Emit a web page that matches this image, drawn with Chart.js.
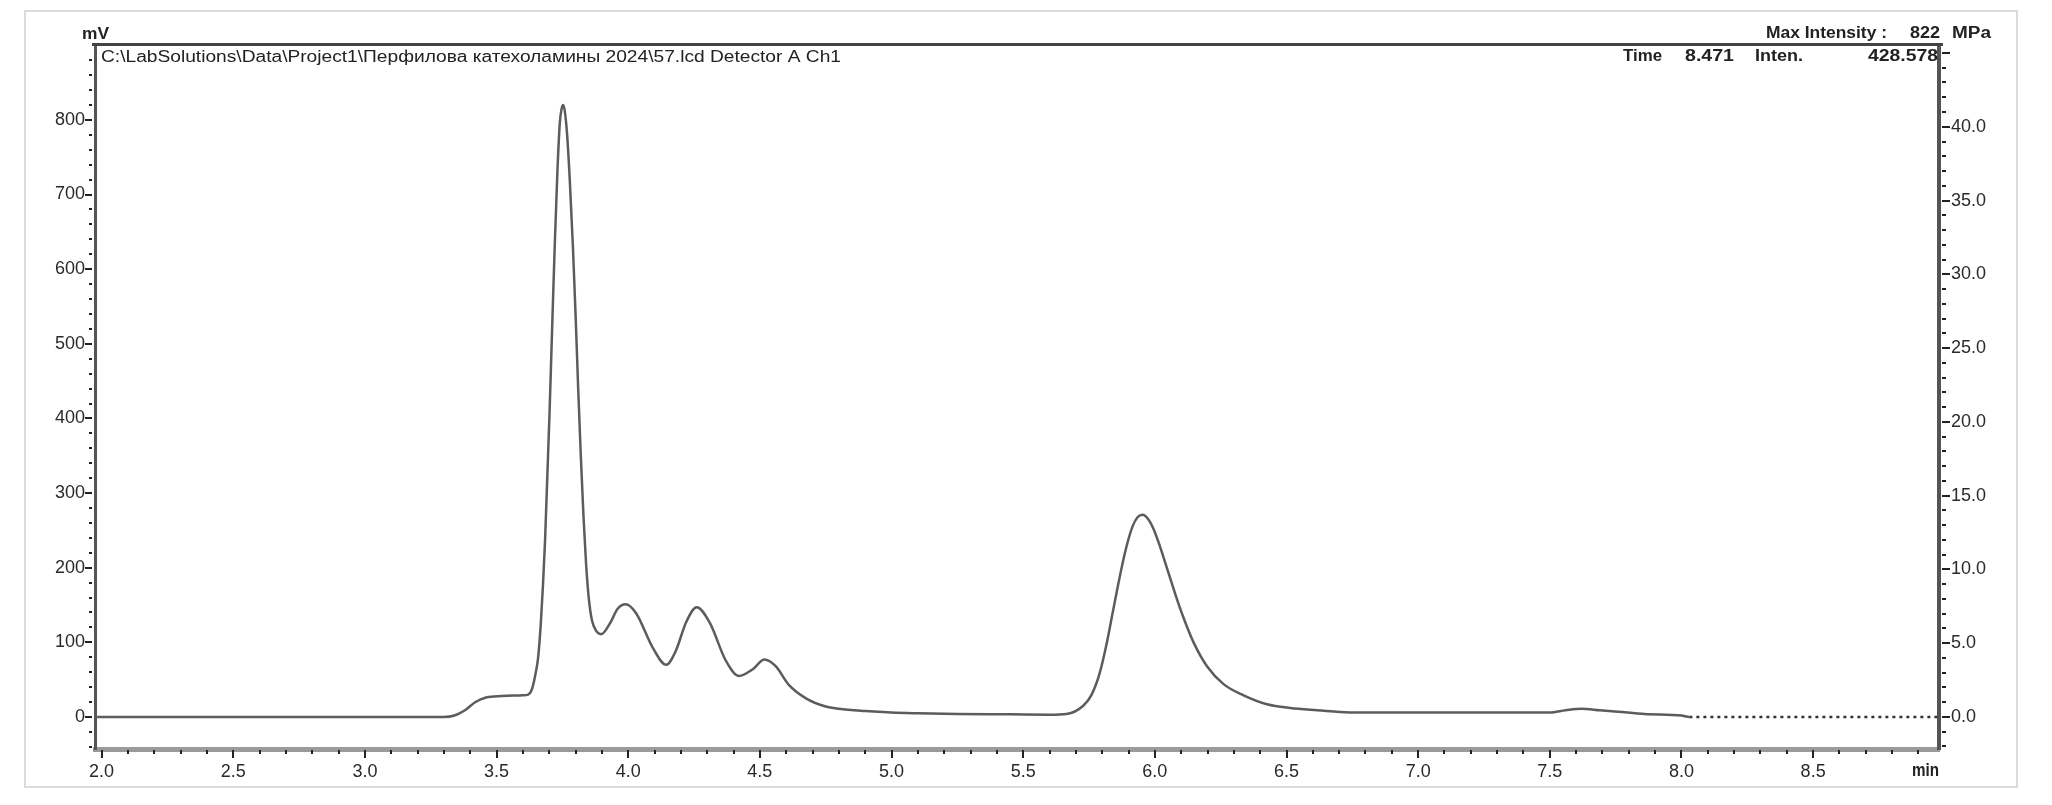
<!DOCTYPE html>
<html>
<head>
<meta charset="utf-8">
<script src="https://cdn.jsdelivr.net/npm/chart.js@4.4.1/dist/chart.umd.min.js"></script>
<style>
  body { margin: 0; background: #fff; }
  canvas { display: block; }
</style>
</head>
<body>
<canvas id="chromChart" width="2052" height="805"></canvas>
<script>
// Retention time (min) and detector signal (mV)
const retentionTime = [
  1.975, 2.5, 3.0, 3.30, 3.34, 3.38, 3.42, 3.46, 3.52, 3.60, 3.62,
  3.635, 3.648, 3.658, 3.668, 3.676, 3.684, 3.692, 3.701, 3.711, 3.721,
  3.731, 3.740, 3.747, 3.753, 3.759, 3.768, 3.778, 3.79, 3.80, 3.81,
  3.82, 3.83, 3.84, 3.85, 3.862, 3.879, 3.898, 3.93, 3.96, 3.99,
  4.03, 4.093, 4.144, 4.18, 4.22, 4.26, 4.31, 4.37, 4.42, 4.473,
  4.517, 4.56, 4.61, 4.675, 4.75, 4.80, 4.90, 5.00, 5.10, 5.25,
  5.45, 5.60, 5.665, 5.728, 5.76, 5.79, 5.815, 5.84, 5.865, 5.89,
  5.915, 5.935, 5.954, 5.975, 5.995, 6.02, 6.05, 6.08, 6.11, 6.147,
  6.198, 6.261, 6.337, 6.426, 6.514, 6.616, 6.74, 7.0, 7.25, 7.50,
  7.56, 7.62, 7.69, 7.76, 7.86, 8.0, 8.03, 8.5, 8.978
];
const signalMv = [
  0, 0, 0, 0, 2, 9, 20, 26, 28, 29, 30,
  38, 58, 80, 125, 175, 235, 315, 405, 520, 632,
  730, 795, 815, 820, 812, 780, 720, 630, 540, 440,
  350, 270, 205, 160, 130, 115, 111, 125, 145, 151,
  139, 93, 70, 88, 127, 147, 126, 76, 55, 64,
  77, 68, 43, 25, 14, 11, 8, 6, 5, 4,
  3.5, 3, 4, 15, 30, 58, 95, 140, 185, 225,
  255, 268, 271, 265, 252, 228, 195, 162, 132, 100,
  68, 44, 29, 17, 12, 9, 6, 6, 6, 6,
  9, 11, 9, 7, 4, 2, 0, 0, 0
];

// axes
const timeRange = [1.975, 8.978];
const mvRange = [-42.9, 899];
const mvPerMpa = 19.77;            // right axis (MPa) is tied to the left one
const timeMajor = 0.5, timeMinor = 0.1;
const mvMajor = 100, mvMinor = 20;
const mpaMajor = 5, mpaMinor = 1;
const dottedFrom = 8.02;           // baseline drawn dotted after this time

// header texts
const headerPath = 'C:\\LabSolutions\\Data\\Project1\\Перфилова катехоламины 2024\\57.lcd Detector A Ch1';
const maxLabel = 'Max Intensity :', maxValue = '822', pressUnit = 'MPa';
const cursorTimeLabel = 'Time', cursorTime = '8.471', cursorIntLabel = 'Inten.', cursorInt = '428.578';
const yUnit = 'mV', xUnit = 'min';

const FONT = '"Liberation Sans", Arial, sans-serif';
const points = retentionTime.map((t, i) => ({ x: t, y: signalMv[i] }));

// text squeezed/stretched to a given width
function fitText(ctx, text, left, y, width, font) {
  ctx.save();
  ctx.font = font;
  ctx.textBaseline = 'middle';
  ctx.textAlign = 'left';
  const w = ctx.measureText(text).width;
  ctx.translate(left, y);
  ctx.scale(width / w, 1);
  ctx.fillText(text, 0, 0);
  ctx.restore();
}

const decorPlugin = {
  id: 'decor',
  beforeDraw(chart) {
    const ctx = chart.ctx;
    ctx.save();
    ctx.fillStyle = '#fff';
    ctx.fillRect(0, 0, chart.width, chart.height);
    ctx.strokeStyle = '#cfcfcf';
    ctx.lineWidth = 1.5;
    ctx.strokeRect(25, 11, 1992, 776);
    ctx.restore();
  },
  afterDraw(chart) {
    const ctx = chart.ctx;
    const area = chart.chartArea;
    const sx = chart.scales.x, sy = chart.scales.y, s2 = chart.scales.y2;
    ctx.save();
    // top frame line
    ctx.strokeStyle = '#444';
    ctx.lineWidth = 3;
    ctx.beginPath();
    ctx.moveTo(area.left - 3, area.top - 1.5);
    ctx.lineTo(area.right + 4, area.top - 1.5);
    ctx.stroke();

    ctx.strokeStyle = '#222';
    ctx.lineWidth = 2;
    const eps = 1e-6;
    // left axis ticks
    for (let v = Math.ceil(mvRange[0] / mvMinor) * mvMinor; v <= mvRange[1]; v += mvMinor) {
      const y = Math.round(sy.getPixelForValue(v));
      const major = Math.abs(v / mvMajor - Math.round(v / mvMajor)) < eps;
      ctx.beginPath();
      ctx.moveTo(area.left - 3, y);
      ctx.lineTo(area.left - (major ? 10 : 6), y);
      ctx.stroke();
    }
    // right axis ticks
    const mpaMin = mvRange[0] / mvPerMpa, mpaMax = mvRange[1] / mvPerMpa;
    for (let v = Math.ceil(mpaMin / mpaMinor) * mpaMinor; v <= mpaMax; v += mpaMinor) {
      const y = Math.round(s2.getPixelForValue(v));
      const major = Math.abs(v / mpaMajor - Math.round(v / mpaMajor)) < eps;
      ctx.beginPath();
      ctx.moveTo(area.right + 3, y);
      ctx.lineTo(area.right + (major ? 11 : 7), y);
      ctx.stroke();
    }
    // bottom axis ticks
    for (let k = Math.ceil(timeRange[0] / timeMinor); k * timeMinor <= timeRange[1]; k++) {
      const v = k * timeMinor;
      const x = Math.round(sx.getPixelForValue(v));
      const major = Math.abs(v / timeMajor - Math.round(v / timeMajor)) < eps;
      ctx.beginPath();
      ctx.moveTo(x, area.bottom + 1);
      ctx.lineTo(x, area.bottom + (major ? 9 : 5));
      ctx.stroke();
    }

    ctx.fillStyle = '#222';
    fitText(ctx, yUnit, 82, 34, 27, 'bold 17px ' + FONT);
    fitText(ctx, headerPath, 101, 58, 740, '16px ' + FONT);
    fitText(ctx, maxLabel, 1766, 34, 121, 'bold 16px ' + FONT);
    fitText(ctx, maxValue, 1910, 34, 30, 'bold 16px ' + FONT);
    fitText(ctx, pressUnit, 1952, 34, 39, 'bold 16px ' + FONT);
    fitText(ctx, cursorTimeLabel, 1623, 57, 39, 'bold 16px ' + FONT);
    fitText(ctx, cursorTime, 1685, 57, 49, 'bold 16px ' + FONT);
    fitText(ctx, cursorIntLabel, 1755, 57, 48, 'bold 16px ' + FONT);
    fitText(ctx, cursorInt, 1868, 57, 70, 'bold 16px ' + FONT);
    fitText(ctx, xUnit, 1912, 771, 27, 'bold 18px ' + FONT);
    ctx.restore();
  }
};

const tickFont = { family: FONT, size: 18 };

new Chart(document.getElementById('chromChart'), {
  type: 'line',
  data: {
    datasets: [{
      data: points,
      borderColor: '#5c5c5c',
      borderWidth: 2.5,
      pointRadius: 0,
      fill: false,
      cubicInterpolationMode: 'monotone',
      segment: {
        borderDash: c => (c.p0.parsed.x >= dottedFrom ? [3, 4] : undefined),
        borderColor: c => (c.p0.parsed.x >= dottedFrom ? '#333' : undefined)
      }
    }]
  },
  options: {
    responsive: false,
    animation: false,
    layout: { padding: { top: 46, left: 0, right: 0, bottom: 0 } },
    plugins: { legend: { display: false }, tooltip: { enabled: false } },
    scales: {
      x: {
        type: 'linear',
        min: timeRange[0],
        max: timeRange[1],
        afterFit: s => { s.height = 56; },
        border: { color: '#9a9a9a', width: 5 },
        grid: { display: false, drawTicks: true, tickLength: 8 },
        ticks: {
          stepSize: timeMajor, includeBounds: false, autoSkip: false, maxRotation: 0,
          padding: 4, color: '#2a2a2a', font: tickFont,
          callback: v => v.toFixed(1)
        }
      },
      y: {
        position: 'left',
        min: mvRange[0],
        max: mvRange[1],
        afterFit: s => { s.width = 95; },
        border: { color: '#555', width: 3 },
        grid: { display: false, drawTicks: true, tickLength: 9 },
        ticks: {
          stepSize: mvMajor, includeBounds: false, padding: 1,
          color: '#2a2a2a', font: tickFont
        }
      },
      y2: {
        position: 'right',
        min: mvRange[0] / mvPerMpa,
        max: mvRange[1] / mvPerMpa,
        afterFit: s => { s.width = 113; },
        border: { color: '#555', width: 4 },
        grid: { display: false, drawTicks: true, tickLength: 10 },
        ticks: {
          stepSize: mpaMajor, includeBounds: false, padding: 2,
          color: '#2a2a2a', font: tickFont,
          callback: v => (v > 42 ? '' : v.toFixed(1))
        }
      }
    }
  },
  plugins: [decorPlugin]
});
</script>
</body>
</html>
